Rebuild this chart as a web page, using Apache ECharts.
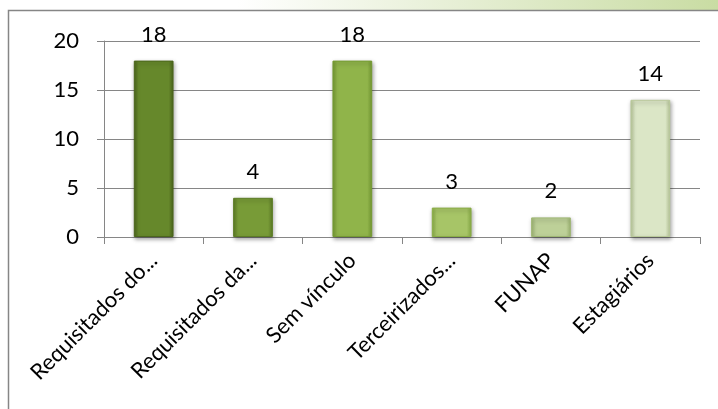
<!DOCTYPE html>
<html><head><meta charset="utf-8">
<script src="https://cdn.jsdelivr.net/npm/echarts@6/dist/echarts.min.js"></script>
<style>html,body{margin:0;padding:0;background:#fff}#c{width:718px;height:409px}</style>
</head><body><div id="c"></div>
<script>
const categories = ['Requisitados do...', 'Requisitados da...', 'Sem vínculo', 'Terceirizados...', 'FUNAP', 'Estagiários'];
const values = [18, 4, 18, 3, 2, 14];
const yTicks = [0, 5, 10, 15, 20];

const palette = [
  ['#4b661c', '#66882b'],
  ['#5c7c25', '#789b37'],
  ['#759a33', '#90b44a'],
  ['#8aae46', '#a7c567'],
  ['#9fb774', '#bdd098'],
  ['#b9c99a', '#dbe6c6']
];
function grad(c) {
  return new echarts.graphic.LinearGradient(0, 0, 1, 0, [
    {offset: 0, color: c[0]}, {offset: 0.12, color: c[1]},
    {offset: 0.88, color: c[1]}, {offset: 1, color: c[0]}
  ]);
}
const chart = echarts.init(document.getElementById('c'));
const font = 'Lato, "Open Sans", sans-serif';
chart.setOption({
  animation: false,
  backgroundColor: '#fff',
  graphic: [
    {type: 'rect', shape: {x: 0, y: 0, width: 718, height: 10}, z: -1,
     style: {fill: new echarts.graphic.LinearGradient(0, 0, 1, 0, [
       {offset: 0, color: '#ffffff'}, {offset: 0.33, color: '#ffffff'}, {offset: 1, color: '#c9dca3'}])}},
    {type: 'rect', shape: {x: 8.5, y: 10.5, width: 730, height: 420}, z: -1,
     style: {fill: 'none', stroke: '#868686', lineWidth: 1.5}}
  ],
  grid: {left: 104, right: 18, top: 41, bottom: 172},
  xAxis: {
    type: 'category', data: categories,
    axisLine: {lineStyle: {color: '#868686', width: 1}},
    axisTick: {show: true, length: 7, lineStyle: {color: '#868686'}},
    axisLabel: {rotate: 45, interval: 0, margin: 20, color: '#000', fontSize: 22, fontFamily: font}
  },
  yAxis: {
    type: 'value', min: 0, max: 20, interval: 5,
    axisLine: {show: true, lineStyle: {color: '#868686', width: 1}},
    axisTick: {show: true, length: 7, lineStyle: {color: '#868686'}},
    splitLine: {lineStyle: {color: '#868686', width: 1.2}},
    axisLabel: {margin: 25, color: '#000', fontSize: 22, fontFamily: font,
      formatter: v => yTicks.includes(v) ? String(v) : ''}
  },
  series: [{
    type: 'bar', barWidth: '40%',
    data: values.map((v, i) => ({value: v, itemStyle: {color: grad(palette[i]), borderColor: palette[i][0], borderWidth: 1,
      shadowBlur: 4, shadowColor: 'rgba(0,0,0,0.35)', shadowOffsetX: 1, shadowOffsetY: 2}})),
    label: {show: true, position: 'top', distance: 15, color: '#000', fontSize: 22, fontFamily: font}
  }]
});
</script></body></html>
